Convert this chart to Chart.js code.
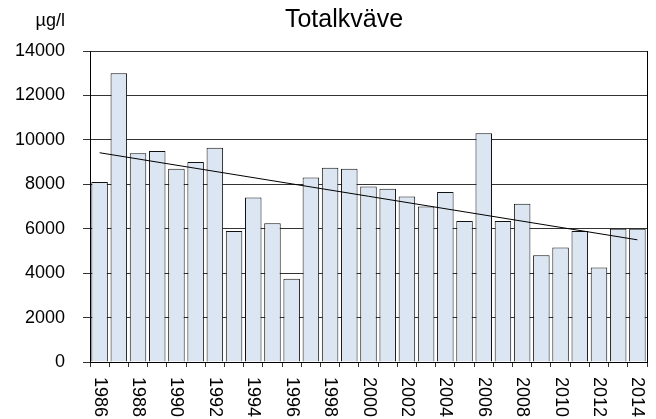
<!DOCTYPE html>
<html lang="sv">
<head>
<meta charset="UTF-8" />
<title>Totalkväve</title>
<script src="https://cdn.jsdelivr.net/npm/chart.js"></script>
<style>
  body { margin: 0; background: #fff; }
  #chart { display: block; }
</style>
</head>
<body>
<canvas id="chart" width="656" height="419"></canvas>
<script>
// years on the x axis
const years = ["1986","1987","1988","1989","1990","1991","1992","1993","1994","1995",
  "1996","1997","1998","1999","2000","2001","2002","2003","2004","2005",
  "2006","2007","2008","2009","2010","2011","2012","2013","2014"];

// totalkväve, µg/l
const values = [8100, 13000, 9400, 9500, 8700, 9000, 9650, 5900, 7400, 6250,
  3750, 8300, 8750, 8700, 7900, 7800, 7450, 7000, 7650, 6350,
  10300, 6350, 7120, 4800, 5150, 5900, 4250, 6000, 6000];

// trend line end points
const trendYears = ["1986", "2014"];
const trendValues = [9420, 5500];

const yTicks = [0, 2000, 4000, 6000, 8000, 10000, 12000, 14000];

const FONT = "'Liberation Sans', Arial, sans-serif";

// title, unit and rotated year labels + right border of the plot
const extras = {
  id: "extras",
  afterDraw(chart) {
    const c = chart.ctx;
    const area = chart.chartArea;
    const xs = chart.scales.x;
    c.save();
    c.fillStyle = "#000";

    c.font = "25px " + FONT;
    c.textAlign = "center";
    c.textBaseline = "alphabetic";
    c.fillText("Totalkväve", 344, 27);

    c.font = "18px " + FONT;
    c.textAlign = "right";
    c.fillText("µg/l", 65, 26);

    // right edge of the plot box
    c.strokeStyle = "#000";
    c.lineWidth = 1;
    c.beginPath();
    c.moveTo(Math.round(area.right) + 0.5, area.top);
    c.lineTo(Math.round(area.right) + 0.5, area.bottom);
    c.stroke();

    // every second year, rotated clockwise
    c.font = "18px " + FONT;
    c.textAlign = "left";
    c.textBaseline = "middle";
    years.forEach((y, i) => {
      if (i % 2) return;
      const x = xs.getPixelForValue(i);
      c.save();
      c.translate(x, area.bottom + 15);
      c.rotate(Math.PI / 2);
      c.fillText(y, 0, 0);
      c.restore();
    });
    c.restore();
  }
};

new Chart(document.getElementById("chart"), {
  type: "bar",
  data: {
    labels: years,
    datasets: [
      {
        type: "line",
        data: trendYears.map((y, i) => ({ x: y, y: trendValues[i] })),
        borderColor: "#000",
        borderWidth: 1,
        pointRadius: 0,
        fill: false,
        order: 0
      },
      {
        data: values,
        backgroundColor: "#dce6f2",
        borderColor: "#111",
        borderWidth: 1,
        barPercentage: 0.86,
        categoryPercentage: 1,
        order: 1
      }
    ]
  },
  options: {
    responsive: false,
    animation: false,
    events: [],
    layout: { padding: { top: 51, right: 9, left: 0, bottom: 0 } },
    plugins: {
      legend: { display: false },
      tooltip: { enabled: false },
      title: { display: false }
    },
    scales: {
      x: {
        offset: true,
        grid: { offset: true, drawOnChartArea: false, drawTicks: true, tickLength: 5, color: "#333" },
        border: { display: true, color: "#000", width: 1 },
        ticks: { display: false },
        afterFit(s) { s.height = 57; s.paddingLeft = 0; s.paddingRight = 0; }
      },
      y: {
        min: 0,
        max: 14000,
        afterBuildTicks(s) { s.ticks = yTicks.map(v => ({ value: v })); },
        grid: { color: "#333", lineWidth: 1, tickLength: 7 },
        border: { display: true, color: "#000", width: 1 },
        ticks: {
          padding: 18,
          color: "#000",
          font: { family: FONT, size: 18 },
          callback: v => String(v)
        },
        afterFit(s) { s.width = 90; s.paddingTop = 0; s.paddingBottom = 0; }
      }
    }
  },
  plugins: [extras]
});
</script>
</body>
</html>
